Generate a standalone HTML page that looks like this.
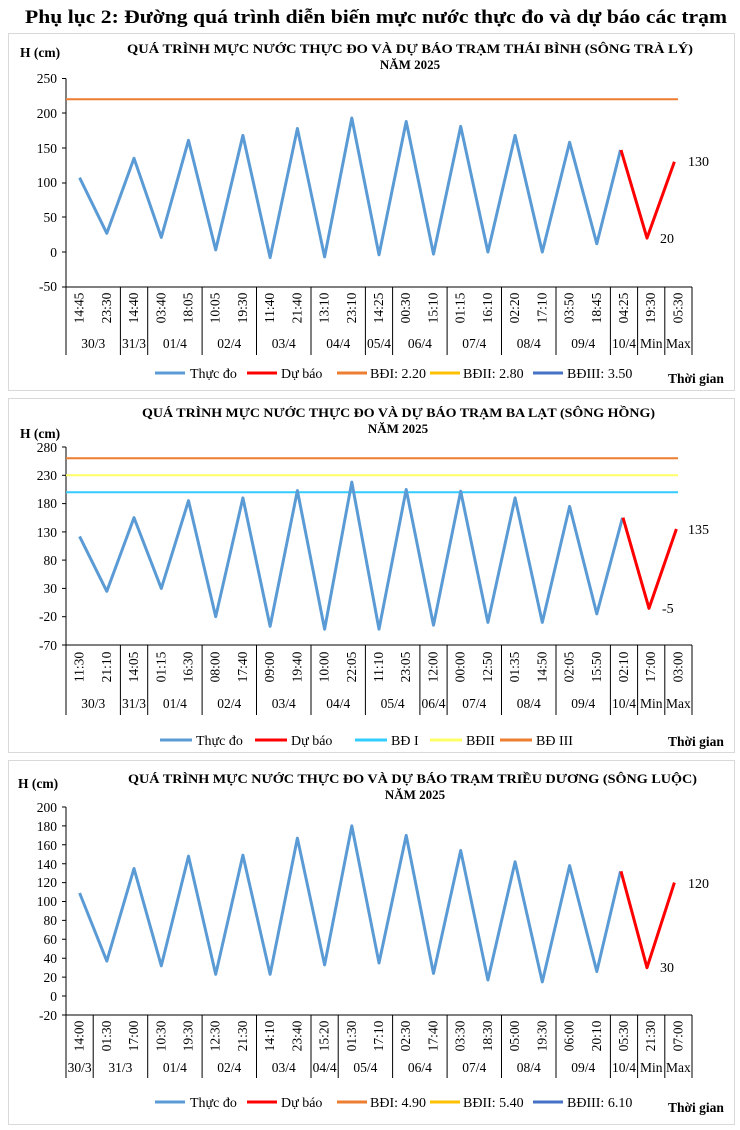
<!DOCTYPE html>
<html><head><meta charset="utf-8"><style>
body{margin:0;background:#fff;width:740px;height:1130px;overflow:hidden}
svg{display:block;font-family:"Liberation Serif",serif}
.t{font-size:13px;font-weight:bold;text-anchor:middle}
.yl{font-size:13.5px;text-anchor:end}
.tl{font-size:13.5px;text-anchor:middle}
.dl{font-size:13.5px;text-anchor:middle}
.lg{font-size:14px}
.b{font-weight:bold;font-size:13.5px}
</style></head><body>
<svg width="740" height="1130" viewBox="0 0 740 1130">
<text x="376" y="23" textLength="702" lengthAdjust="spacingAndGlyphs" style="font-size:19px;font-weight:bold;text-anchor:middle">Phụ lục 2: Đường quá trình diễn biến mực nước thực đo và dự báo các trạm</text>

<!-- CHART 1 -->
<rect x="8.5" y="33.5" width="726" height="357" fill="#fff" stroke="#d9d9d9"/>
<text x="20" y="57" class="b">H (cm)</text>
<text x="127" y="53" textLength="566" lengthAdjust="spacingAndGlyphs" class="t" style="text-anchor:start">QUÁ TRÌNH MỰC NƯỚC THỰC ĐO VÀ DỰ BÁO TRẠM THÁI BÌNH (SÔNG TRÀ LÝ)</text>
<text x="410" y="69" class="t">NĂM 2025</text>
<g class="yl"><text x="57" y="83">250</text><text x="57" y="118">200</text><text x="57" y="153">150</text><text x="57" y="187">100</text><text x="57" y="222">50</text><text x="57" y="257">0</text><text x="57" y="291">-50</text></g>
<g stroke="#000" stroke-width="1"><line x1="66" y1="78.5" x2="66" y2="287"/><line x1="62" y1="78.5" x2="66" y2="78.5"/><line x1="62" y1="113" x2="66" y2="113"/><line x1="62" y1="148" x2="66" y2="148"/><line x1="62" y1="183" x2="66" y2="183"/><line x1="62" y1="217" x2="66" y2="217"/><line x1="62" y1="252" x2="66" y2="252"/><line x1="62" y1="287" x2="692" y2="287"/>
<path d="M66 287V355M120.4 287V355M147.7 287V355M202.1 287V355M256.5 287V355M311 287V355M365.4 287V355M392.6 287V355M447.1 287V355M501.5 287V355M556 287V355M610.4 287V355M637.6 287V355M664.8 287V355M692 287V355" fill="none"/></g>
<line x1="66" y1="99.3" x2="678" y2="99.3" stroke="#ed7d31" stroke-width="2"/>
<polyline fill="none" stroke="#5b9bd5" stroke-width="3" stroke-linejoin="round" points="79.6,177.7 106.8,233.3 134,158.3 161.3,237.4 188.5,140.3 215.7,249.9 242.9,135.4 270.1,257.6 297.4,128.5 324.6,256.9 351.8,118 379,254.8 406.2,121.5 433.5,254.1 460.7,126.4 487.9,252 515.1,135.4 542.3,252 569.6,142.3 596.8,243.7 620.5,150"/>
<polyline fill="none" stroke="#ff0000" stroke-width="3" stroke-linejoin="round" points="621,150 647,238.1 674.4,161.8"/>
<text x="688" y="166" class="lg">130</text><text x="660" y="243" class="lg">20</text>
<g class="tl">
<text transform="translate(83.6,308) rotate(-90)">14:45</text><text transform="translate(110.8,308) rotate(-90)">23:30</text><text transform="translate(138,308) rotate(-90)">14:40</text><text transform="translate(165.3,308) rotate(-90)">03:40</text><text transform="translate(192.5,308) rotate(-90)">18:05</text><text transform="translate(219.7,308) rotate(-90)">10:05</text><text transform="translate(246.9,308) rotate(-90)">19:30</text><text transform="translate(274.1,308) rotate(-90)">11:40</text><text transform="translate(301.4,308) rotate(-90)">21:40</text><text transform="translate(328.6,308) rotate(-90)">13:10</text><text transform="translate(355.8,308) rotate(-90)">23:10</text><text transform="translate(383,308) rotate(-90)">14:25</text><text transform="translate(410.2,308) rotate(-90)">00:30</text><text transform="translate(437.5,308) rotate(-90)">15:10</text><text transform="translate(464.7,308) rotate(-90)">01:15</text><text transform="translate(491.9,308) rotate(-90)">16:10</text><text transform="translate(519.1,308) rotate(-90)">02:20</text><text transform="translate(546.3,308) rotate(-90)">17:10</text><text transform="translate(573.6,308) rotate(-90)">03:50</text><text transform="translate(600.8,308) rotate(-90)">18:45</text><text transform="translate(628,308) rotate(-90)">04:25</text><text transform="translate(655.2,308) rotate(-90)">19:30</text><text transform="translate(682.4,308) rotate(-90)">05:30</text></g>
<g class="dl"><text x="93.2" y="348">30/3</text><text x="134" y="348">31/3</text><text x="174.9" y="348">01/4</text><text x="229.3" y="348">02/4</text><text x="283.8" y="348">03/4</text><text x="338.2" y="348">04/4</text><text x="379" y="348">05/4</text><text x="419.9" y="348">06/4</text><text x="474.3" y="348">07/4</text><text x="528.7" y="348">08/4</text><text x="583.2" y="348">09/4</text><text x="624" y="348">10/4</text><text x="651.2" y="348">Min</text><text x="678.4" y="348">Max</text></g>
<g class="lg"><line x1="155" y1="373" x2="185" y2="373" stroke="#5b9bd5" stroke-width="3"/><text x="190" y="378">Thực đo</text>
<line x1="247" y1="373" x2="277" y2="373" stroke="#ff0000" stroke-width="3"/><text x="281" y="378">Dự báo</text>
<line x1="337" y1="373" x2="367" y2="373" stroke="#ed7d31" stroke-width="3"/><text x="370" y="378">BĐI: 2.20</text>
<line x1="430" y1="373" x2="460" y2="373" stroke="#ffc000" stroke-width="3"/><text x="463" y="378">BĐII: 2.80</text>
<line x1="533" y1="373" x2="563" y2="373" stroke="#4472c4" stroke-width="3"/><text x="567" y="378">BĐIII: 3.50</text></g>
<text x="668" y="383" class="b">Thời gian</text>

<!-- CHART 2 -->
<rect x="8.5" y="398.5" width="726" height="354" fill="#fff" stroke="#d9d9d9"/>
<text x="20" y="438" class="b">H (cm)</text>
<text x="142" y="417" textLength="513" lengthAdjust="spacingAndGlyphs" class="t" style="text-anchor:start">QUÁ TRÌNH MỰC NƯỚC THỰC ĐO VÀ DỰ BÁO TRẠM BA LẠT (SÔNG HỒNG)</text>
<text x="398" y="433" class="t">NĂM 2025</text>
<g class="yl"><text x="57" y="452">280</text><text x="57" y="480">230</text><text x="57" y="508">180</text><text x="57" y="537">130</text><text x="57" y="565">80</text><text x="57" y="593">30</text><text x="57" y="621">-20</text><text x="57" y="650">-70</text></g>
<g stroke="#000" stroke-width="1"><line x1="66" y1="447" x2="66" y2="645"/><line x1="62" y1="447" x2="66" y2="447"/><line x1="62" y1="475.3" x2="66" y2="475.3"/><line x1="62" y1="503.6" x2="66" y2="503.6"/><line x1="62" y1="531.9" x2="66" y2="531.9"/><line x1="62" y1="560.1" x2="66" y2="560.1"/><line x1="62" y1="588.4" x2="66" y2="588.4"/><line x1="62" y1="616.7" x2="66" y2="616.7"/><line x1="62" y1="645" x2="692" y2="645"/>
<path d="M66 645V715M120.4 645V715M147.7 645V715M202.1 645V715M256.5 645V715M311 645V715M365.4 645V715M419.9 645V715M447.1 645V715M501.5 645V715M556 645V715M610.4 645V715M637.6 645V715M664.8 645V715M692 645V715" fill="none"/></g>
<line x1="66" y1="458.3" x2="678" y2="458.3" stroke="#ed7d31" stroke-width="2"/>
<line x1="66" y1="475.3" x2="678" y2="475.3" stroke="#ffff66" stroke-width="2"/>
<line x1="66" y1="492.3" x2="678" y2="492.3" stroke="#33ccff" stroke-width="2"/>
<polyline fill="none" stroke="#5b9bd5" stroke-width="3" stroke-linejoin="round" points="79.6,536.4 106.8,591.3 134,517.7 161.3,588.4 188.5,500.7 215.7,616.7 242.9,497.9 270.1,626.3 297.4,490.6 324.6,629.2 351.8,482.1 379,629.2 406.2,489.5 433.5,625.2 460.7,491.2 487.9,622.4 515.1,497.9 542.3,622.4 569.6,506.4 596.8,613.9 622.5,517.7"/>
<polyline fill="none" stroke="#ff0000" stroke-width="3" stroke-linejoin="round" points="623,517.7 649,608.3 676.4,529"/>
<text x="688" y="534" class="lg">135</text><text x="662" y="613" class="lg">-5</text>
<g class="tl">
<text transform="translate(83.6,667) rotate(-90)">11:30</text><text transform="translate(110.8,667) rotate(-90)">21:10</text><text transform="translate(138,667) rotate(-90)">14:05</text><text transform="translate(165.3,667) rotate(-90)">01:15</text><text transform="translate(192.5,667) rotate(-90)">16:30</text><text transform="translate(219.7,667) rotate(-90)">08:00</text><text transform="translate(246.9,667) rotate(-90)">17:40</text><text transform="translate(274.1,667) rotate(-90)">09:00</text><text transform="translate(301.4,667) rotate(-90)">19:40</text><text transform="translate(328.6,667) rotate(-90)">10:00</text><text transform="translate(355.8,667) rotate(-90)">22:05</text><text transform="translate(383,667) rotate(-90)">11:10</text><text transform="translate(410.2,667) rotate(-90)">23:05</text><text transform="translate(437.5,667) rotate(-90)">12:00</text><text transform="translate(464.7,667) rotate(-90)">00:00</text><text transform="translate(491.9,667) rotate(-90)">12:50</text><text transform="translate(519.1,667) rotate(-90)">01:35</text><text transform="translate(546.3,667) rotate(-90)">14:50</text><text transform="translate(573.6,667) rotate(-90)">02:05</text><text transform="translate(600.8,667) rotate(-90)">15:50</text><text transform="translate(628,667) rotate(-90)">02:10</text><text transform="translate(655.2,667) rotate(-90)">17:00</text><text transform="translate(682.4,667) rotate(-90)">03:00</text></g>
<g class="dl"><text x="93.2" y="708">30/3</text><text x="134" y="708">31/3</text><text x="174.9" y="708">01/4</text><text x="229.3" y="708">02/4</text><text x="283.8" y="708">03/4</text><text x="338.2" y="708">04/4</text><text x="392.6" y="708">05/4</text><text x="433.5" y="708">06/4</text><text x="474.3" y="708">07/4</text><text x="528.7" y="708">08/4</text><text x="583.2" y="708">09/4</text><text x="624" y="708">10/4</text><text x="651.2" y="708">Min</text><text x="678.4" y="708">Max</text></g>
<g class="lg"><line x1="160" y1="740" x2="192" y2="740" stroke="#5b9bd5" stroke-width="3"/><text x="196" y="745">Thực đo</text>
<line x1="255" y1="740" x2="287" y2="740" stroke="#ff0000" stroke-width="3"/><text x="291" y="745">Dự báo</text>
<line x1="355" y1="740" x2="387" y2="740" stroke="#33ccff" stroke-width="3"/><text x="391" y="745">BĐ I</text>
<line x1="430" y1="740" x2="462" y2="740" stroke="#ffff66" stroke-width="3"/><text x="466" y="745">BĐII</text>
<line x1="500" y1="740" x2="532" y2="740" stroke="#ed7d31" stroke-width="3"/><text x="536" y="745">BĐ III</text></g>
<text x="668" y="746" class="b">Thời gian</text>

<!-- CHART 3 -->
<rect x="8.5" y="760.5" width="726" height="364" fill="#fff" stroke="#d9d9d9"/>
<text x="18" y="788" class="b">H (cm)</text>
<text x="128" y="783" textLength="569" lengthAdjust="spacingAndGlyphs" class="t" style="text-anchor:start">QUÁ TRÌNH MỰC NƯỚC THỰC ĐO VÀ DỰ BÁO TRẠM TRIỀU DƯƠNG  (SÔNG LUỘC)</text>
<text x="415" y="799" class="t">NĂM 2025</text>
<g class="yl"><text x="57" y="812">200</text><text x="57" y="831">180</text><text x="57" y="850">160</text><text x="57" y="869">140</text><text x="57" y="887">120</text><text x="57" y="906">100</text><text x="57" y="925">80</text><text x="57" y="944">60</text><text x="57" y="963">40</text><text x="57" y="982">20</text><text x="57" y="1001">0</text><text x="57" y="1020">-20</text></g>
<g stroke="#000" stroke-width="1"><line x1="66" y1="807" x2="66" y2="1015"/>
<path d="M62 807H66M62 825.9H66M62 844.8H66M62 863.7H66M62 882.6H66M62 901.5H66M62 920.4H66M62 939.3H66M62 958.2H66M62 977.1H66M62 996H66"/>
<line x1="62" y1="1015" x2="692" y2="1015"/>
<path d="M66 1015V1078M93.2 1015V1078M147.7 1015V1078M202.1 1015V1078M256.5 1015V1078M311 1015V1078M338.2 1015V1078M392.6 1015V1078M447.1 1015V1078M501.5 1015V1078M556 1015V1078M610.4 1015V1078M637.6 1015V1078M664.8 1015V1078M692 1015V1078" fill="none"/></g>
<polyline fill="none" stroke="#5b9bd5" stroke-width="3" stroke-linejoin="round" points="79.6,893 106.8,961.1 134,868.5 161.3,965.8 188.5,856.2 215.7,974.3 242.9,855.2 270.1,974.3 297.4,838.2 324.6,964.9 351.8,825.9 379,963 406.2,835.4 433.5,973.4 460.7,850.5 487.9,980 515.1,861.8 542.3,981.9 569.6,865.6 596.8,971.5 620.5,871.3"/>
<polyline fill="none" stroke="#ff0000" stroke-width="3" stroke-linejoin="round" points="621,871.3 647,967.7 674.4,882.6"/>
<text x="688" y="888" class="lg">120</text><text x="660" y="972" class="lg">30</text>
<g class="tl">
<text transform="translate(83.6,1036) rotate(-90)">14:00</text><text transform="translate(110.8,1036) rotate(-90)">01:30</text><text transform="translate(138,1036) rotate(-90)">17:00</text><text transform="translate(165.3,1036) rotate(-90)">10:30</text><text transform="translate(192.5,1036) rotate(-90)">19:30</text><text transform="translate(219.7,1036) rotate(-90)">12:30</text><text transform="translate(246.9,1036) rotate(-90)">21:30</text><text transform="translate(274.1,1036) rotate(-90)">14:10</text><text transform="translate(301.4,1036) rotate(-90)">23:40</text><text transform="translate(328.6,1036) rotate(-90)">15:20</text><text transform="translate(355.8,1036) rotate(-90)">01:30</text><text transform="translate(383,1036) rotate(-90)">17:10</text><text transform="translate(410.2,1036) rotate(-90)">02:30</text><text transform="translate(437.5,1036) rotate(-90)">17:40</text><text transform="translate(464.7,1036) rotate(-90)">03:30</text><text transform="translate(491.9,1036) rotate(-90)">18:30</text><text transform="translate(519.1,1036) rotate(-90)">05:00</text><text transform="translate(546.3,1036) rotate(-90)">19:30</text><text transform="translate(573.6,1036) rotate(-90)">06:00</text><text transform="translate(600.8,1036) rotate(-90)">20:10</text><text transform="translate(628,1036) rotate(-90)">05:30</text><text transform="translate(655.2,1036) rotate(-90)">21:30</text><text transform="translate(682.4,1036) rotate(-90)">07:00</text></g>
<g class="dl"><text x="79.6" y="1072">30/3</text><text x="120.4" y="1072">31/3</text><text x="174.9" y="1072">01/4</text><text x="229.3" y="1072">02/4</text><text x="283.8" y="1072">03/4</text><text x="324.6" y="1072">04/4</text><text x="365.4" y="1072">05/4</text><text x="419.9" y="1072">06/4</text><text x="474.3" y="1072">07/4</text><text x="528.7" y="1072">08/4</text><text x="583.2" y="1072">09/4</text><text x="624" y="1072">10/4</text><text x="651.2" y="1072">Min</text><text x="678.4" y="1072">Max</text></g>
<g class="lg"><line x1="155" y1="1102" x2="185" y2="1102" stroke="#5b9bd5" stroke-width="3"/><text x="190" y="1107">Thực đo</text>
<line x1="247" y1="1102" x2="277" y2="1102" stroke="#ff0000" stroke-width="3"/><text x="281" y="1107">Dự báo</text>
<line x1="337" y1="1102" x2="367" y2="1102" stroke="#ed7d31" stroke-width="3"/><text x="370" y="1107">BĐI: 4.90</text>
<line x1="430" y1="1102" x2="460" y2="1102" stroke="#ffc000" stroke-width="3"/><text x="463" y="1107">BĐII: 5.40</text>
<line x1="533" y1="1102" x2="563" y2="1102" stroke="#4472c4" stroke-width="3"/><text x="567" y="1107">BĐIII: 6.10</text></g>
<text x="668" y="1112" class="b">Thời gian</text>
</svg>
</body></html>
